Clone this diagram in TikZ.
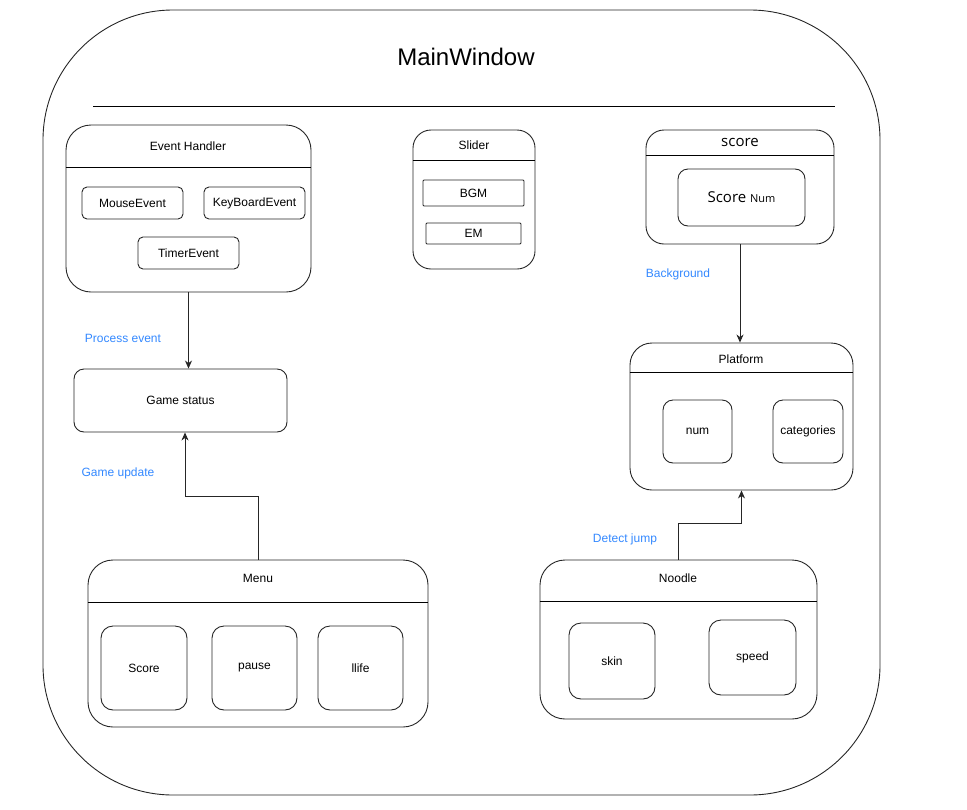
\documentclass[tikz,border=0pt]{standalone}
\usepackage{fontspec}
\setmainfont{Liberation Sans}
\newfontfamily\scorefont{Open Sans}
\usetikzlibrary{arrows.meta}
\definecolor{lblblue}{RGB}{51,136,255}

\begin{document}
\begin{tikzpicture}[x=1pt,y=-1pt,line width=0.9pt,
  box/.style={draw=black!85,rounded corners=#1,inner sep=0pt,
    font=\fontsize{12}{14}\selectfont},
  title/.style={font=\fontsize{12}{14}\selectfont,inner sep=0pt},
  lbl/.style={text=lblblue,font=\fontsize{12}{14}\selectfont,inner sep=0pt},
  arr/.style={draw=black!85,-{Stealth[length=8pt,width=7pt,inset=2.5pt]}}]
  \useasboundingbox (0,0) rectangle (967,809);

  % main window
  \node [box=130pt, minimum width=837pt, minimum height=785pt] (mw) at (461.5,402.5) {};
  \node [font=\fontsize{24}{28}\selectfont] (mwtitle) at (466,57) {MainWindow};
  \draw (93,106) -- (835,106);

  % event handler
  \node [box=25pt, minimum width=245pt, minimum height=167pt] (eh) at (188.5,208.5) {};
  \draw (eh.west |- 0,167) -- (eh.east |- 0,167);
  \node [title] (ehtitle) at (188,146) {Event Handler};
  \node [box=5pt, minimum width=101pt, minimum height=32pt] (mouse) at (132.5,203) {MouseEvent};
  \node [box=5pt, minimum width=101pt, minimum height=32pt] (key) at (254.5,203) {KeyBoardEvent};
  \node [box=5pt, minimum width=101pt, minimum height=32pt] (timer) at (188.5,253) {TimerEvent};

  % slider
  \node [box=18pt, minimum width=122pt, minimum height=139pt] (sl) at (474,199.5) {};
  \draw (sl.west |- 0,160) -- (sl.east |- 0,160);
  \node [title] (sltitle) at (474,145) {Slider};
  \node [box=1pt, minimum width=101pt, minimum height=26pt] (bgm) at (473.5,193) {BGM};
  \node [box=1pt, minimum width=95pt, minimum height=21pt] (em) at (473.5,233.5) {EM};

  % score
  \node [box=18pt, minimum width=188pt, minimum height=114pt] (sc) at (740,187) {};
  \draw (sc.west |- 0,155) -- (sc.east |- 0,155);
  \node [title, font=\scorefont\fontsize{15}{18}\selectfont] (sctitle) at (740,142) {score};
  \node [box=10pt, minimum width=127pt, minimum height=57pt] (scnum) at (741.5,197.5)
    {\scorefont\fontsize{15}{18}\selectfont Score {\fontsize{11}{13}\selectfont Num}};

  % platform
  \node [box=22pt, minimum width=223pt, minimum height=147pt] (pf) at (741.5,416.5) {};
  \draw (pf.west |- 0,372) -- (pf.east |- 0,372);
  \node [title] (pftitle) at (741,359) {Platform};
  \node [box=10pt, minimum width=69pt, minimum height=63pt] (num) at (697.5,431.5) {num};
  \node [box=10pt, minimum width=70pt, minimum height=63pt] (cat) at (808,431.5) {categories};

  % game status
  \node [box=10pt, minimum width=213pt, minimum height=63pt] (gs) at (180.5,400.5) {Game status};

  % menu
  \node [box=25pt, minimum width=340pt, minimum height=167pt] (mn) at (258,643.5) {};
  \draw (mn.west |- 0,602) -- (mn.east |- 0,602);
  \node [title] (mntitle) at (258,578) {Menu};
  \node [box=12pt, minimum width=86pt, minimum height=84pt] (mscore) at (144,668) {Score};
  \node [box=12pt, minimum width=85pt, minimum height=84pt] (pause) at (254.5,668) {pause};
  \node [box=12pt, minimum width=85pt, minimum height=84pt] (life) at (360.5,668) {llife};

  % noodle
  \node [box=25pt, minimum width=277pt, minimum height=159pt] (nd) at (678.5,639.5) {};
  \draw (nd.west |- 0,601) -- (nd.east |- 0,601);
  \node [title] (ndtitle) at (678,578) {Noodle};
  \node [box=12pt, minimum width=86pt, minimum height=76pt] (skin) at (612,661) {skin};
  \node [box=12pt, minimum width=87pt, minimum height=75pt] (speed) at (752.5,657.5) {speed};

  % connectors
  \draw [arr] (eh.south) -- (eh.south |- gs.north);
  \draw [arr] (sc.south) -- (sc.south |- pf.north);
  \draw [arr] (mn.north) -- ++(0,-63) -| ([xshift=4.5pt]gs.south);
  \draw [arr] (nd.north) -- ++(0,-36) -| (pf.south);

  \node [lbl] (lproc) at (123,338) {Process event};
  \node [lbl] (lback) at (678,274) {Background};
  \node [lbl] (lupd) at (118,473) {Game update};
  \node [lbl] (ljump) at (625,539) {Detect jump};
\end{tikzpicture}
\end{document}
